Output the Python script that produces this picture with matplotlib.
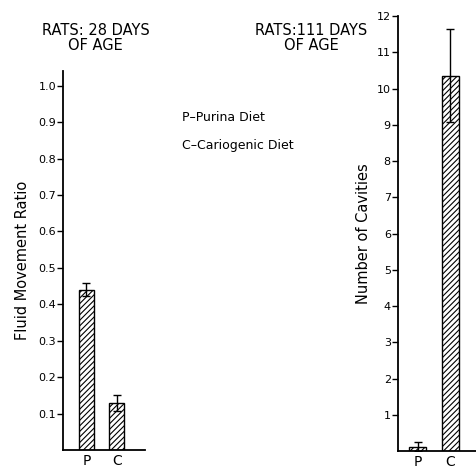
import numpy as np
import matplotlib.pyplot as plt

plt.rcParams['hatch.linewidth'] = 0.8

# data
groups = ['P', 'C']
fluid_ratio = [0.44, 0.13]
fluid_err = [0.018, 0.022]
cavities = [0.12, 10.35]
cavities_err = [0.12, 1.28]
fluid_ticks = [0.1, 0.2, 0.3, 0.4, 0.5, 0.6, 0.7, 0.8, 0.9, 1.0]
cavity_ticks = list(range(1, 13))

fig = plt.figure(figsize=(4.77, 4.70), dpi=100)

# left panel: 28 days
ax1 = fig.add_axes([0.132, 0.0426, 0.172, 0.806])
x = np.arange(len(groups))
ax1.bar(x, fluid_ratio, width=0.49, color='white', edgecolor='black',
        hatch='//////', linewidth=1.0)
ax1.errorbar(x, fluid_ratio, yerr=fluid_err, fmt='none', ecolor='black',
             elinewidth=1.0, capsize=3, capthick=1.0)
ax1.set_xlim(-0.77, 1.92)
ax1.set_ylim(0, 1.04)
ax1.set_yticks(fluid_ticks)
ax1.set_yticklabels(['%.1f' % t for t in fluid_ticks])
ax1.set_xticks(x)
ax1.set_xticklabels(groups)
ax1.set_ylabel('Fluid Movement Ratio', fontsize=10.5, labelpad=6)

# right panel: 111 days
ax2 = fig.add_axes([0.834, 0.0404, 0.166, 0.9255])
ax2.bar(x, cavities, width=0.53, color='white', edgecolor='black',
        hatch='//////', linewidth=1.0)
ax2.errorbar(x, cavities, yerr=cavities_err, fmt='none', ecolor='black',
             elinewidth=1.0, capsize=3, capthick=1.0)
ax2.set_xlim(-0.625, 1.84)
ax2.set_ylim(0, 12)
ax2.set_yticks(cavity_ticks)
ax2.set_xticks(x)
ax2.set_xticklabels(groups)
ax2.set_ylabel('Number of Cavities', fontsize=10.5, labelpad=4)

for ax in (ax1, ax2):
    ax.spines['top'].set_visible(False)
    ax.spines['right'].set_visible(False)
    ax.spines['left'].set_linewidth(1.3)
    ax.spines['bottom'].set_linewidth(1.3)
    ax.tick_params(axis='y', direction='out', length=4, width=1.0,
                   labelsize=8, pad=1)
    ax.tick_params(axis='x', length=0, labelsize=10, pad=3)

# titles and key
fig.text(0.20, 0.919, 'RATS: 28 DAYS\nOF AGE', ha='center', va='center',
         fontsize=10.5, linespacing=1.05)
fig.text(0.652, 0.919, 'RATS:111 DAYS\nOF AGE', ha='center', va='center',
         fontsize=10.5, linespacing=1.05)
fig.text(0.381, 0.749, 'P\u2013Purina Diet', ha='left', va='center', fontsize=9)
fig.text(0.381, 0.691, 'C\u2013Cariogenic Diet', ha='left', va='center', fontsize=9)

fig.savefig('out.png', dpi=100)
